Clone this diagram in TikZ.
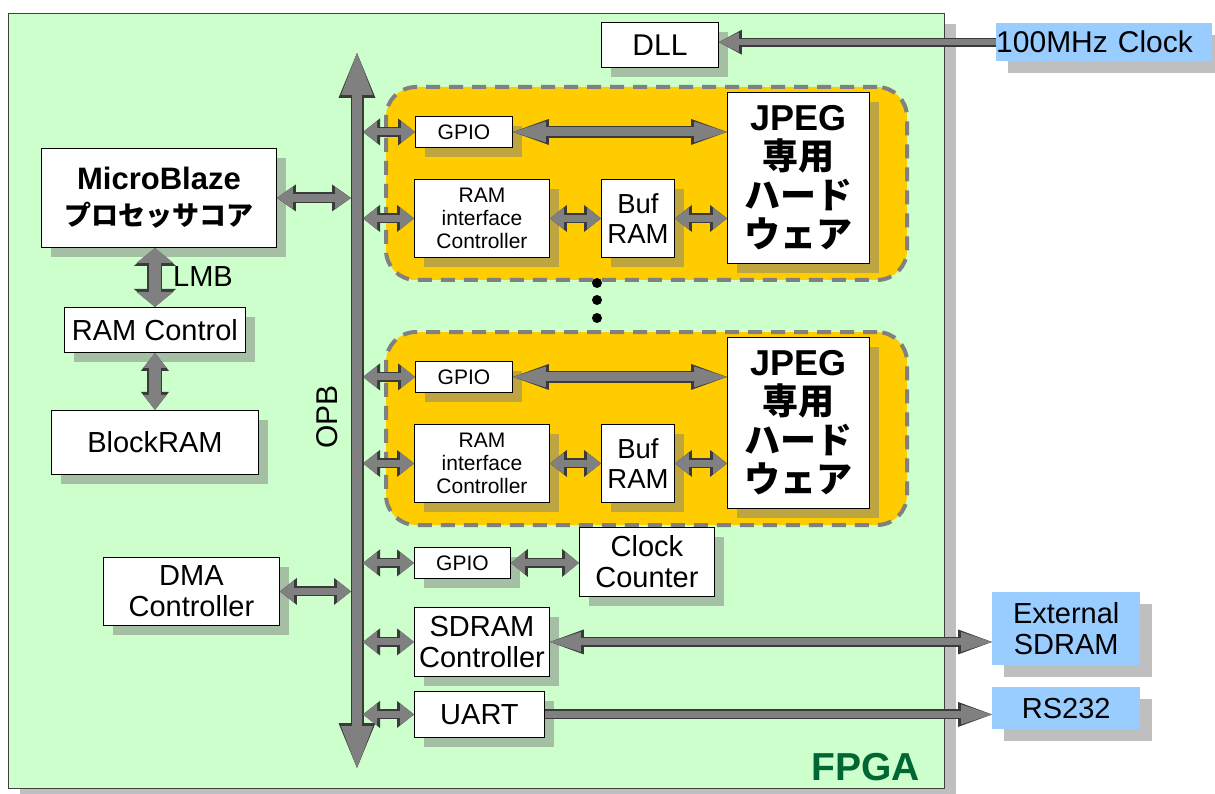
\documentclass[tikz,border=0pt]{standalone}
\usepackage{fontspec}
\setmainfont{Liberation Sans}
\newfontfamily\jp{Noto Sans CJK JP}
\usetikzlibrary{arrows.meta, positioning}
\definecolor{Board}{HTML}{CCFFCC}
\definecolor{Gold}{HTML}{FFCC00}
\definecolor{Sky}{HTML}{99CCFF}
\definecolor{Pipe}{HTML}{808080}
\definecolor{PipeEdge}{HTML}{3A3A3A}
\definecolor{Leaf}{HTML}{006633}
\definecolor{Shade}{HTML}{808080}

\begin{document}
\begin{tikzpicture}[x=1pt, y=-1pt,
  every node/.style={inner sep=0pt, align=center},
  castshadow/.style={preaction={fill=Shade, fill opacity=0.5,
     transform canvas={xshift=#1, yshift=-#1}}},
  castshadow/.default=10pt,
  wh/.style 2 args={minimum width=#1, minimum height=#2},
  blk/.style={castshadow, draw=black, line width=0.9pt, fill=white,
     anchor=north west, font=\fontsize{29}{31}\selectfont},
  outer/.style={castshadow=12pt, fill=Sky, anchor=north west,
     font=\fontsize{29}{31}\selectfont},
  grp/.style={draw=Pipe, fill=Gold, line width=4pt,
     dash pattern=on 14pt off 9pt, rounded corners=30pt, anchor=north west},
  dbl/.style n args={3}{draw=Pipe, line width=#1,
     arrows={Triangle[width=#2, length=#3, line width=0pt]-Triangle[width=#2, length=#3, line width=0pt]},
     preaction={draw=PipeEdge, line width=#1+3pt,
       arrows={Triangle[width=#2+5pt, length=#3+3pt, line width=0pt]-Triangle[width=#2+5pt, length=#3+3pt, line width=0pt]}}},
  sgl/.style n args={3}{draw=Pipe, line width=#1,
     arrows={-Triangle[width=#2, length=#3, line width=0pt]},
     preaction={draw=PipeEdge, line width=#1+3pt,
       arrows={-Triangle[width=#2+5pt, length=#3+3pt, line width=0pt]}}}]
  \useasboundingbox (0,0) rectangle (1215,794);

  % FPGA board
  \node[castshadow=11pt, draw=black!75, line width=1pt, fill=Board,
        anchor=north west, wh={936pt}{775pt}] (fpga) at (8,13) {};
  \node[anchor=base east, text=Leaf, font=\fontsize{39}{41}\selectfont\bfseries]
        (fpgalbl) at (920,780) {FPGA};

  % OPB bus
  \coordinate (opbtop) at (357,53);
  \coordinate (opbbot) at (357,768);
  \coordinate (busl) at (351,53);
  \coordinate (busr) at (363,53);
  \node[rotate=90, font=\fontsize{30}{32}\selectfont] (opblbl) at (327,417) {OPB};

  % processor side
  \node[blk, wh={235pt}{99pt}, font=\fontsize{31}{36}\selectfont\bfseries]
        (mb) at (41,148) {MicroBlaze\\{\jp\fontsize{27}{36}\selectfont プロセッサコア}};
  \node[blk, wh={181pt}{45pt}] (ramctl) at (64,307) {RAM Control};
  \node[blk, wh={207pt}{64pt}, anchor=north, below=57pt of ramctl] (bram) {BlockRAM};
  \node[anchor=west, font=\fontsize{29}{31}\selectfont] (lmb) at (173,277) {LMB};
  \node[blk, wh={176pt}{68pt}] (dma) at (103,557) {DMA\\Controller};

  % JPEG units
  \foreach \g/\dy in {1/0, 2/245}{
    \node[grp, wh={521pt}{193pt}] (grp\g) at (384,85+\dy) {};
    \node[blk, wh={97pt}{31pt}, font=\fontsize{21}{23}\selectfont]
          (gpio\g) at (415,116+\dy) {GPIO};
    \node[blk, wh={135pt}{78pt}, font=\fontsize{21}{23}\selectfont]
          (ramif\g) at (414,179+\dy) {RAM\\interface\\Controller};
    \node[blk, wh={73pt}{78pt}, font=\fontsize{27.5}{30}\selectfont]
          (buf\g) at (601,179+\dy) {Buf\\RAM};
    \node[blk, wh={142pt}{171pt}, font=\fontsize{36}{39}\selectfont\bfseries]
          (jpeg\g) at (727,92+\dy) {JPEG\\{\jp 専用}\\{\jp ハード}\\{\jp ウェア}};
    \draw[dbl={7pt}{22pt}{14pt}] (busr |- gpio\g.west) -- (gpio\g.west);
    \draw[dbl={7pt}{22pt}{14pt}] (busr |- ramif\g.west) -- (ramif\g.west);
    \draw[dbl={9pt}{21pt}{33pt}] (gpio\g.east) -- (gpio\g.east -| jpeg\g.west);
    \draw[dbl={7pt}{22pt}{14pt}] (ramif\g.east) -- (buf\g.west);
    \draw[dbl={7pt}{22pt}{14pt}] (buf\g.east) -- (buf\g.east -| jpeg\g.west);
  }
  \foreach \yy in {283,300,318}
    \fill (597,\yy) circle[radius=5pt];

  % lower peripherals
  \node[blk, wh={96pt}{31pt}, font=\fontsize{21}{23}\selectfont] (gpio3) at (414,547) {GPIO};
  \node[blk, wh={135pt}{69pt}] (cnt) at (579,527) {Clock\\Counter};
  \node[blk, wh={135pt}{69pt}] (sdram) at (414,607) {SDRAM\\Controller};
  \node[blk, wh={130pt}{46pt}] (uart) at (414,691) {UART};
  \node[blk, wh={117pt}{45pt}, font=\fontsize{30}{32}\selectfont] (dll) at (601,22) {DLL};

  % off-chip
  \node[outer, wh={216pt}{38pt}, text width=216pt, align=left,
        font=\fontsize{30}{32}\selectfont] (osc) at (996,23) {100MHz Clock};
  \node[outer, wh={148pt}{73pt}] (ext) at (992,592) {External\\SDRAM};
  \node[outer, wh={148pt}{42pt}] (rs) at (992,687) {RS232};

  % connections
  \draw[dbl={10pt}{32pt}{42pt}] (opbtop) -- (opbbot);
  \draw[dbl={8pt}{22pt}{16pt}] (mb.east) -- (mb.east -| busl);
  \draw[dbl={12pt}{37pt}{15pt}] (ramctl.north |- mb.south) -- (ramctl.north);
  \draw[dbl={12pt}{23pt}{15pt}] (ramctl.south) -- (bram.north);
  \draw[dbl={7pt}{22pt}{14pt}] (dma.east) -- (dma.east -| busl);
  \draw[dbl={7pt}{22pt}{14pt}] (busr |- gpio3.west) -- (gpio3.west);
  \draw[dbl={7pt}{23pt}{14pt}] (gpio3.east) -- (gpio3.east -| cnt.west);
  \draw[dbl={7pt}{22pt}{14pt}] (busr |- sdram.west) -- (sdram.west);
  \draw[dbl={7pt}{22pt}{14pt}] (busr |- uart.west) -- (uart.west);
  \draw[dbl={7pt}{20pt}{31pt}] (sdram.east) -- (sdram.east -| ext.west);
  \draw[sgl={7pt}{20pt}{31pt}] (uart.east) -- (uart.east -| rs.west);
  \draw[sgl={6pt}{20pt}{20pt}] (osc.west) -- (osc.west -| dll.east);
\end{tikzpicture}
\end{document}
